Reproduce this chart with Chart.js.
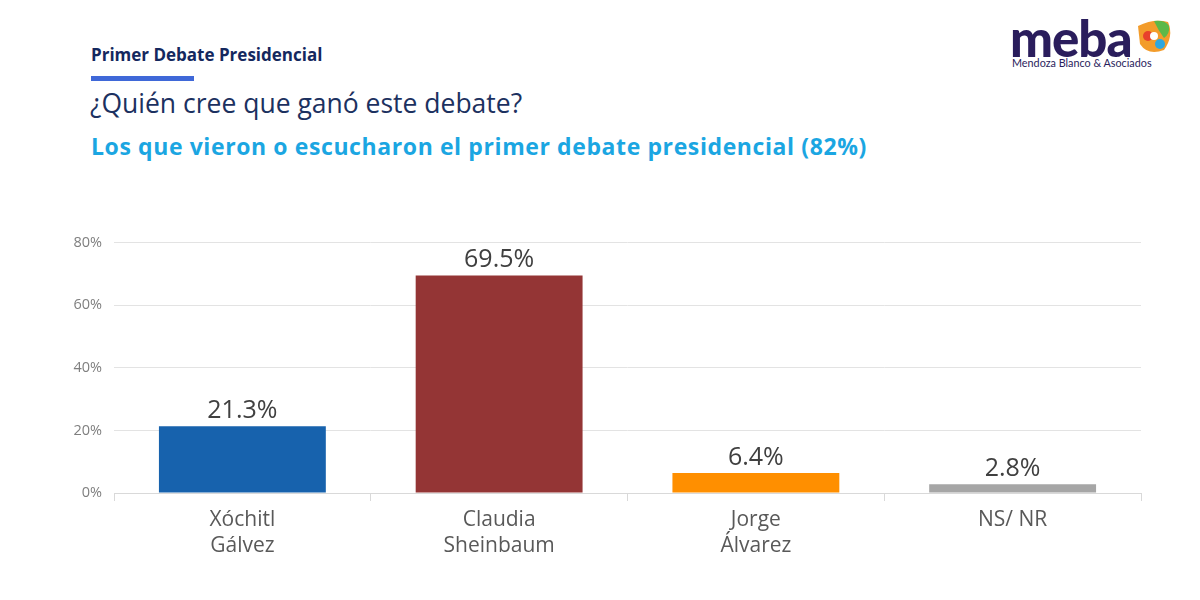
<!DOCTYPE html>
<html>
<head>
<meta charset="utf-8">
<script src="https://cdn.jsdelivr.net/npm/chart.js@4"></script>
<style>
  body { margin: 0; background: #fff; font-family: "Open Sans", Lato, sans-serif; }
  #page { position: relative; width: 1200px; height: 600px; overflow: hidden; }
  .kicker { position: absolute; left: 91px; top: 43px; font-size: 17px; font-weight: bold; color: #14285e; }
  .kicker-bar { position: absolute; left: 91px; top: 76px; width: 103px; height: 5px; background: #3f68d8; }
  .question { position: absolute; left: 90px; top: 85px; font-size: 26.5px; color: #1c3160; }
  .subtitle { position: absolute; left: 91px; top: 130px; font-size: 23px; font-weight: bold; color: #1ba6e2; letter-spacing: 0.6px; }
  .logo { position: absolute; left: 1010px; top: 18px; font-family: Lato, sans-serif; }
  .logo .word { position: absolute; left: 0; top: -11px; font-size: 51px; font-weight: 900; color: #2a1d5c; letter-spacing: -1px; }
  .logo .sub { position: absolute; left: 2px; top: 38px; font-size: 10.8px; color: #2a1d5c; white-space: nowrap; }
  .logo svg { position: absolute; left: 124px; top: 0px; }
  #chartBox { position: absolute; left: 60px; top: 222px; width: 1100px; height: 348px; }
</style>
</head>
<body>
<div id="page">
  <div class="kicker">Primer Debate Presidencial</div>
  <div class="kicker-bar"></div>
  <div class="question">¿Quién cree que ganó este debate?</div>
  <div class="subtitle">Los que vieron o escucharon el primer debate presidencial (82%)</div>
  <div class="logo">
    <div class="word">meba</div>
    <div class="sub">Mendoza Blanco &amp; Asociados</div>
    <svg width="40" height="38" viewBox="0 0 40 38">
      <path d="M4 8 Q20 0 34 4 Q40 18 30 32 Q14 38 6 26 Z" fill="#f39c2b"/>
      <path d="M20 3 Q32 2 35 8 Q36 16 30 20 Q24 12 20 3 Z" fill="#5cb848"/>
      <circle cx="14" cy="18" r="5" fill="#e8412c"/>
      <circle cx="26" cy="26" r="5" fill="#2ea7df"/>
      <circle cx="20" cy="18" r="4" fill="#fff"/>
    </svg>
  </div>
  <div id="chartBox"><canvas id="chart"></canvas></div>
</div>
<script>
// categories and values
const categories = [['Xóchitl', 'Gálvez'], ['Claudia', 'Sheinbaum'], ['Jorge', 'Álvarez'], ['NS/ NR']];
const values = [21.3, 69.5, 6.4, 2.8];
const barColors = ['#1762ad', '#943535', '#ff8f00', '#a6a6a6'];
const yTicks = [0, 20, 40, 60, 80];

// draws the value on top of every bar
const valueLabels = {
    id: 'valueLabels',
    afterDatasetsDraw(chart) {
        const ctx = chart.ctx;
        const meta = chart.getDatasetMeta(0);
        ctx.save();
        ctx.font = '25px "Open Sans", sans-serif';
        ctx.fillStyle = '#404040';
        ctx.textAlign = 'center';
        ctx.textBaseline = 'bottom';
        meta.data.forEach((bar, i) => {
            ctx.fillText(values[i].toFixed(1) + '%', bar.x, bar.y - 3);
        });
        ctx.restore();
    }
};

new Chart(document.getElementById('chart'), {
    type: 'bar',
    data: {
        labels: categories,
        datasets: [{
            data: values,
            backgroundColor: barColors,
            categoryPercentage: 1,
            barPercentage: 0.65
        }]
    },
    options: {
        responsive: true,
        maintainAspectRatio: false,
        animation: false,
        layout: { padding: { top: 13, right: 19, left: 0, bottom: 0 } },
        plugins: { legend: { display: false }, tooltip: { enabled: false } },
        scales: {
            x: {
                afterFit: s => { s.height = 77; },
                border: { display: true, color: '#d9d9d9' },
                grid: { offset: true, drawOnChartArea: false, drawTicks: true, tickLength: 8, color: '#d9d9d9' },
                ticks: { color: '#595959', padding: 6, font: { size: 21, family: '"Open Sans"', lineHeight: 1.25 } }
            },
            y: {
                min: 0,
                max: 80,
                afterFit: s => { s.width = 54; },
                afterBuildTicks: s => { s.ticks = yTicks.map(v => ({ value: v })); },
                border: { display: false },
                grid: { color: '#e3e3e3', drawTicks: false },
                ticks: { color: '#7f7f7f', padding: 12, font: { size: 14.5, family: '"Open Sans"' }, callback: v => v + '%' }
            }
        }
    },
    plugins: [valueLabels]
});
</script>
</body>
</html>
